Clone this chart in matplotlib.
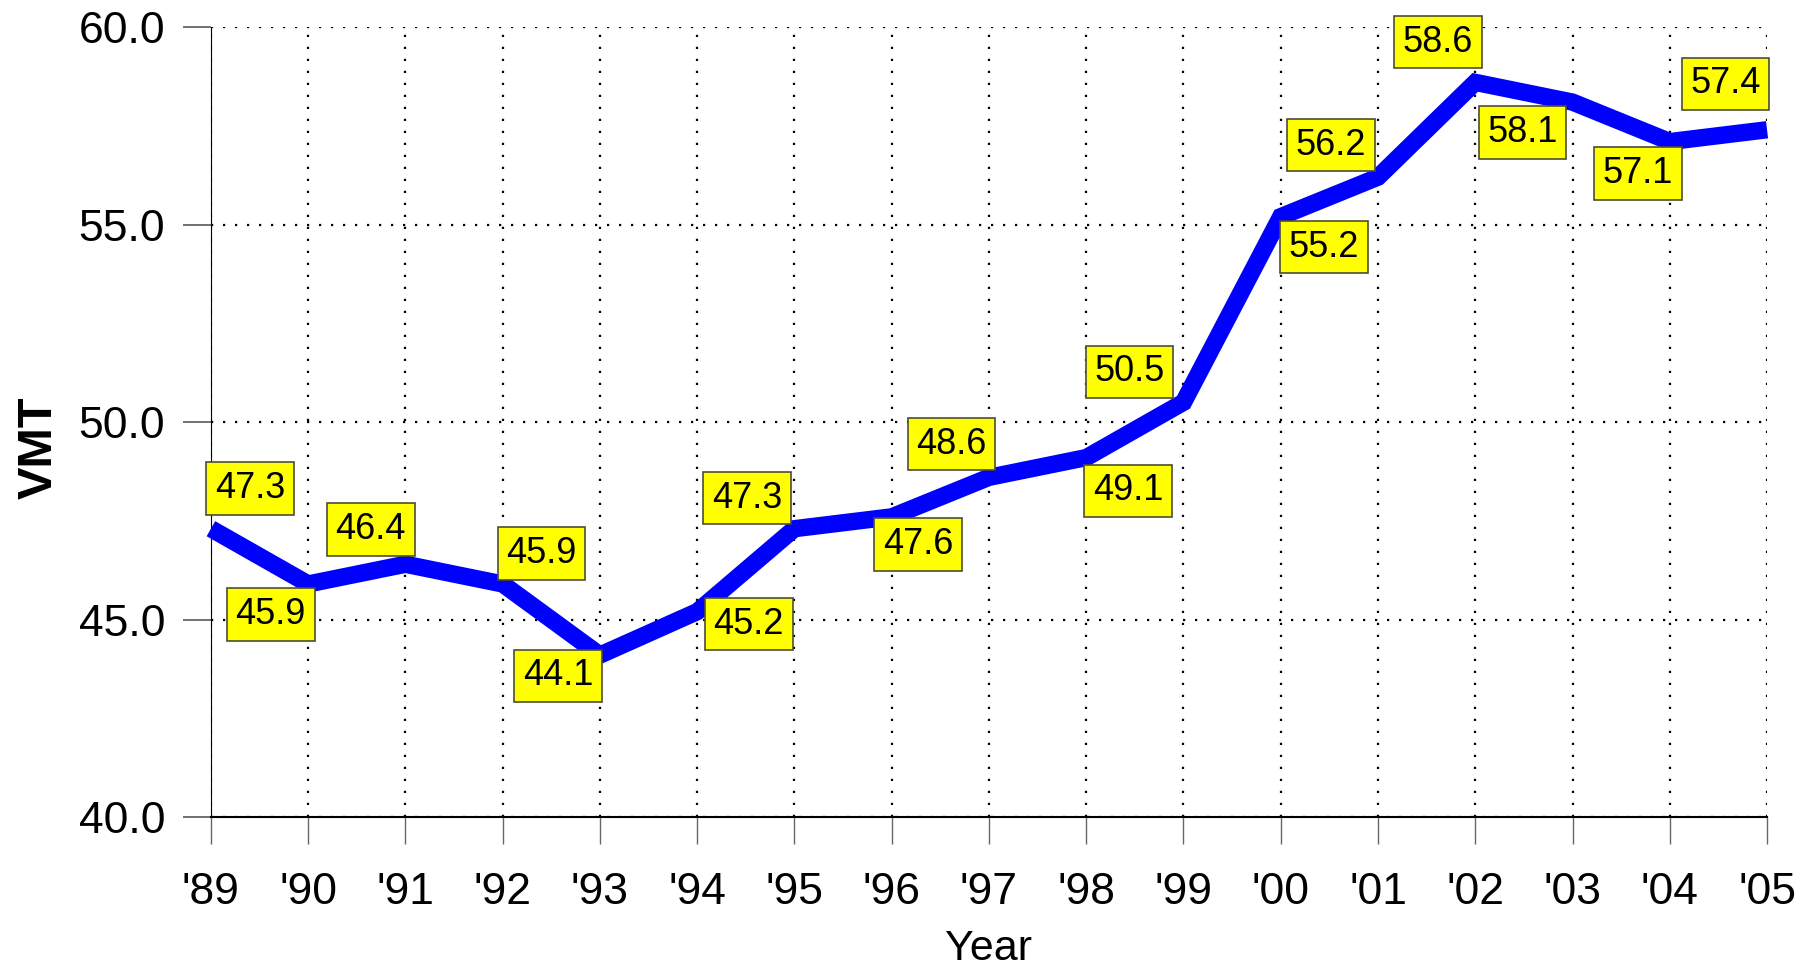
import matplotlib
matplotlib.use("Agg")
import matplotlib.pyplot as plt

plt.rcParams['font.family'] = ['Liberation Sans', 'DejaVu Sans']

# data
years = list(range(1989, 2006))
year_labels = ["'89", "'90", "'91", "'92", "'93", "'94", "'95", "'96", "'97",
               "'98", "'99", "'00", "'01", "'02", "'03", "'04", "'05"]
vmt = [47.3, 45.9, 46.4, 45.9, 44.1, 45.2, 47.3, 47.6, 48.6,
       49.1, 50.5, 55.2, 56.2, 58.6, 58.1, 57.1, 57.4]

# where each value box sits relative to its point (offset points)
label_offsets = [(28, 29), (-27, -22), (-25, 25), (28, 22), (-30, -15),
                 (37, -9), (-34, 22), (19, -20), (-27, 24), (30, -24),
                 (-39, 22), (31, -22), (-34, 23), (-27, 29), (-36, -22),
                 (-23, -23), (-30, 33)]

fig = plt.figure(figsize=(18.09, 9.66), dpi=100)
ax = fig.add_axes([0.1166, 0.1542, 0.8602, 0.8178])

ax.plot(years, vmt, color='#0000ff', linewidth=12.5, solid_capstyle='butt',
        solid_joinstyle='miter', clip_on=False, zorder=3)

for yr, v, off in zip(years, vmt, label_offsets):
    ax.annotate(f"{v:.1f}", (yr, v), xytext=off, textcoords='offset points',
                ha='center', va='center', fontsize=26, color='black', zorder=5,
                annotation_clip=False,
                bbox=dict(boxstyle='square,pad=0.24', facecolor='#ffff00',
                          edgecolor='#4d4d33', linewidth=1.2))

ax.set_xlim(1989, 2005)
ax.set_ylim(40, 60)
ax.set_xticks(years)
ax.set_xticklabels(year_labels)
ax.set_yticks([40, 45, 50, 55, 60])
ax.set_yticklabels([f"{t:.1f}" for t in [40, 45, 50, 55, 60]])

ax.tick_params(axis='y', direction='out', length=20, width=1.3, color='#666666',
               labelsize=32, pad=13)
ax.tick_params(axis='x', direction='out', length=19.5, width=1.0, color='#666666',
               labelsize=32, pad=20)

ax.spines['top'].set_visible(False)
ax.spines['right'].set_visible(False)
ax.spines['left'].set_linewidth(0.8)
ax.spines['bottom'].set_linewidth(1.5)

ax.grid(True, color='black', linewidth=1.6, linestyle=(0, (1, 4.4)), zorder=1)
ax.set_axisbelow(True)

ax.set_ylabel("VMT", fontsize=35, fontweight='bold')
ax.yaxis.set_label_coords(-0.096, 0.468)
ax.set_xlabel("Year", fontsize=31)
ax.xaxis.set_label_coords(0.5, -0.142)

fig.savefig("out.png", dpi=100)
